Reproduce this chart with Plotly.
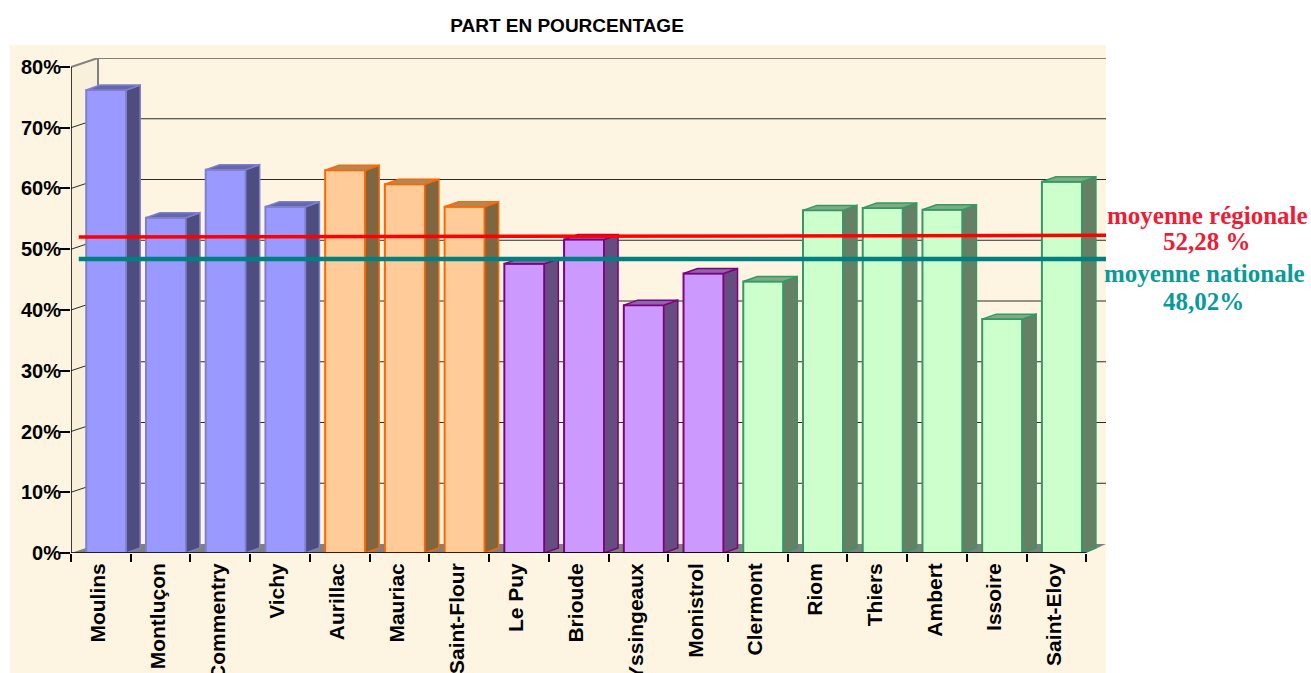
import plotly.graph_objects as go

towns = ["Moulins", "Montluçon", "Commentry", "Vichy", "Aurillac", "Mauriac", "Saint-Flour",
         "Le Puy", "Brioude", "Yssingeaux", "Monistrol", "Clermont", "Riom", "Thiers",
         "Ambert", "Issoire", "Saint-Eloy"]
shares = [76.2, 55.2, 63.1, 57.0, 63.0, 60.7, 57.0, 47.6, 51.6, 40.8, 46.0, 44.7, 56.4, 56.8, 56.5, 38.5, 61.1]
groups = [(0, 4), (4, 7), (7, 11), (11, 17)]
front_colors = ["#9999FF", "#FFCC99", "#CC99FF", "#CCFFCC"]
edge_colors = ["#7F7FCC", "#FF6600", "#800080", "#339966"]
side_colors = ["#4D4D80", "#806640", "#664D80", "#668066"]
top_colors = ["#6666AA", "#AD8A5C", "#8A66AA", "#80AA80"]
y_ticks = [0, 10, 20, 30, 40, 50, 60, 70, 80]
mean_x = [0.13, 17.33]
regional_line = [52.0, 52.3]
national_line = [48.4, 48.4]

X_MAX, Y_MAX = 17.328, 81.48
WALL_DX, WALL_DY = 0.452, 1.48
BAR_DX, BAR_DY = 0.234, 0.82
BAR_LEFT, BAR_W = 0.255, 0.67


def poly(pts):
    return "M " + " L ".join(f"{x},{y}" for x, y in pts) + " Z"


shapes = [
    dict(type="rect", xref="paper", yref="paper", x0=-61 / 1035, x1=1, y0=-120 / 495, y1=508 / 495,
         fillcolor="#FDF5E1", line_width=0, layer="below"),
    dict(type="path", path=poly([(0, 0), (WALL_DX, WALL_DY), (WALL_DX, 80 + WALL_DY), (0, 80)]),
         fillcolor="#F9F0DC", line_width=0, layer="below"),
    dict(type="path", path=poly([(0, 0), (WALL_DX, WALL_DY), (X_MAX, WALL_DY), (17, 0)]),
         fillcolor="#808080", line_width=0, layer="below"),
    dict(type="line", x0=WALL_DX, x1=WALL_DX, y0=WALL_DY, y1=80 + WALL_DY,
         line=dict(color="#808080", width=2), layer="below"),
]
for v in y_ticks[1:]:
    color = "#808080" if v == 80 else "#2A2A2A"
    width = 2 if v == 80 else 1
    shapes.append(dict(type="line", x0=0, x1=WALL_DX, y0=v, y1=v + WALL_DY,
                       line=dict(color=color, width=width), layer="below"))
    shapes.append(dict(type="line", x0=WALL_DX, x1=X_MAX, y0=v + WALL_DY, y1=v + WALL_DY,
                       line=dict(color=color, width=width), layer="below"))

fig = go.Figure()

for (a, b), fc, ec, sc, tc in zip(groups, front_colors, edge_colors, side_colors, top_colors):
    idx = list(range(a, b))
    fig.add_bar(x=[i + BAR_LEFT + BAR_W / 2 for i in idx], y=shares[a:b], width=BAR_W,
                marker=dict(color=fc, line=dict(color=ec, width=2)), showlegend=False, hoverinfo="skip")
    sx, sy, tx, ty = [], [], [], []
    for i in idx:
        x0, x1, v = i + BAR_LEFT, i + BAR_LEFT + BAR_W, shares[i]
        sx += [x1, x1 + BAR_DX, x1 + BAR_DX, x1, x1, None]
        sy += [0, BAR_DY, v + BAR_DY, v, 0, None]
        tx += [x0, x0 + BAR_DX, x1 + BAR_DX, x1, x0, None]
        ty += [v, v + BAR_DY, v + BAR_DY, v, v, None]
    for px, py, col in ((sx, sy, sc), (tx, ty, tc)):
        fig.add_scatter(x=px, y=py, mode="lines", fill="toself", fillcolor=col,
                        line=dict(color=ec, width=1.5), showlegend=False, hoverinfo="skip")

# axis lines
fig.add_scatter(x=[0, 17], y=[0, 0], mode="lines", line=dict(color="#000000", width=1.5),
                cliponaxis=False, showlegend=False, hoverinfo="skip")
fig.add_scatter(x=[0, 0], y=[0, 80], mode="lines", line=dict(color="#000000", width=1.5),
                cliponaxis=False, showlegend=False, hoverinfo="skip")
# mean lines
fig.add_scatter(x=mean_x, y=regional_line, mode="lines", line=dict(color="#FF0000", width=3.5),
                showlegend=False, hoverinfo="skip")
fig.add_scatter(x=mean_x, y=national_line, mode="lines", line=dict(color="#008080", width=4.5),
                showlegend=False, hoverinfo="skip")

notes = [("moyenne régionale", 1207, 215, "#EE1C35"), ("52,28 %", 1207, 242, "#EE1C35"),
         ("moyenne nationale", 1204, 273, "#0A9A9A"), ("48,02%", 1203, 301, "#0A9A9A")]
annotations = [dict(text=f"<b>{t}</b>", xref="paper", yref="paper", x=(px - 71) / 1035, y=(553 - py) / 495,
                    xanchor="center", yanchor="middle", showarrow=False,
                    font=dict(family="Liberation Serif", size=25, color=c)) for t, px, py, c in notes]

fig.update_layout(
    width=1311, height=673, autosize=False,
    margin=dict(l=71, r=205, t=58, b=120, autoexpand=False),
    paper_bgcolor="#FFFFFF", plot_bgcolor="rgba(0,0,0,0)",
    font=dict(family="Liberation Sans", color="#000000"),
    title=dict(text="<b>PART EN POURCENTAGE</b>", x=567 / 1311, y=1 - 25 / 673, xanchor="center", yanchor="middle",
               font=dict(family="Liberation Sans", size=19, color="#000000")),
    shapes=shapes, annotations=annotations, barmode="overlay",
    xaxis=dict(range=[0, X_MAX], tickmode="array", tickvals=[i + 0.46 for i in range(17)],
               ticktext=[f"<b>{t}</b>" for t in towns], tickangle=-90, ticks="", showgrid=False, zeroline=False,
               tickfont=dict(family="Liberation Sans", size=21), ticklabelstandoff=5,
               minor=dict(tickmode="array", tickvals=list(range(18)), ticks="outside", ticklen=8,
                          tickcolor="#000000", tickwidth=1.5, showgrid=False),
               automargin=False),
    yaxis=dict(range=[0, Y_MAX], tickmode="array", tickvals=y_ticks,
               ticktext=[f"<b>{v}%</b>" for v in y_ticks], ticks="outside", ticklen=10, tickcolor="#000000",
               tickwidth=1.5, showgrid=False, zeroline=False, ticklabelstandoff=-5,
               tickfont=dict(family="Liberation Sans", size=20), automargin=False),
)

fig.write_html("out.html", config={"displayModeBar": False},
               post_script="document.body.style.margin='0';document.documentElement.style.overflow='hidden';")
